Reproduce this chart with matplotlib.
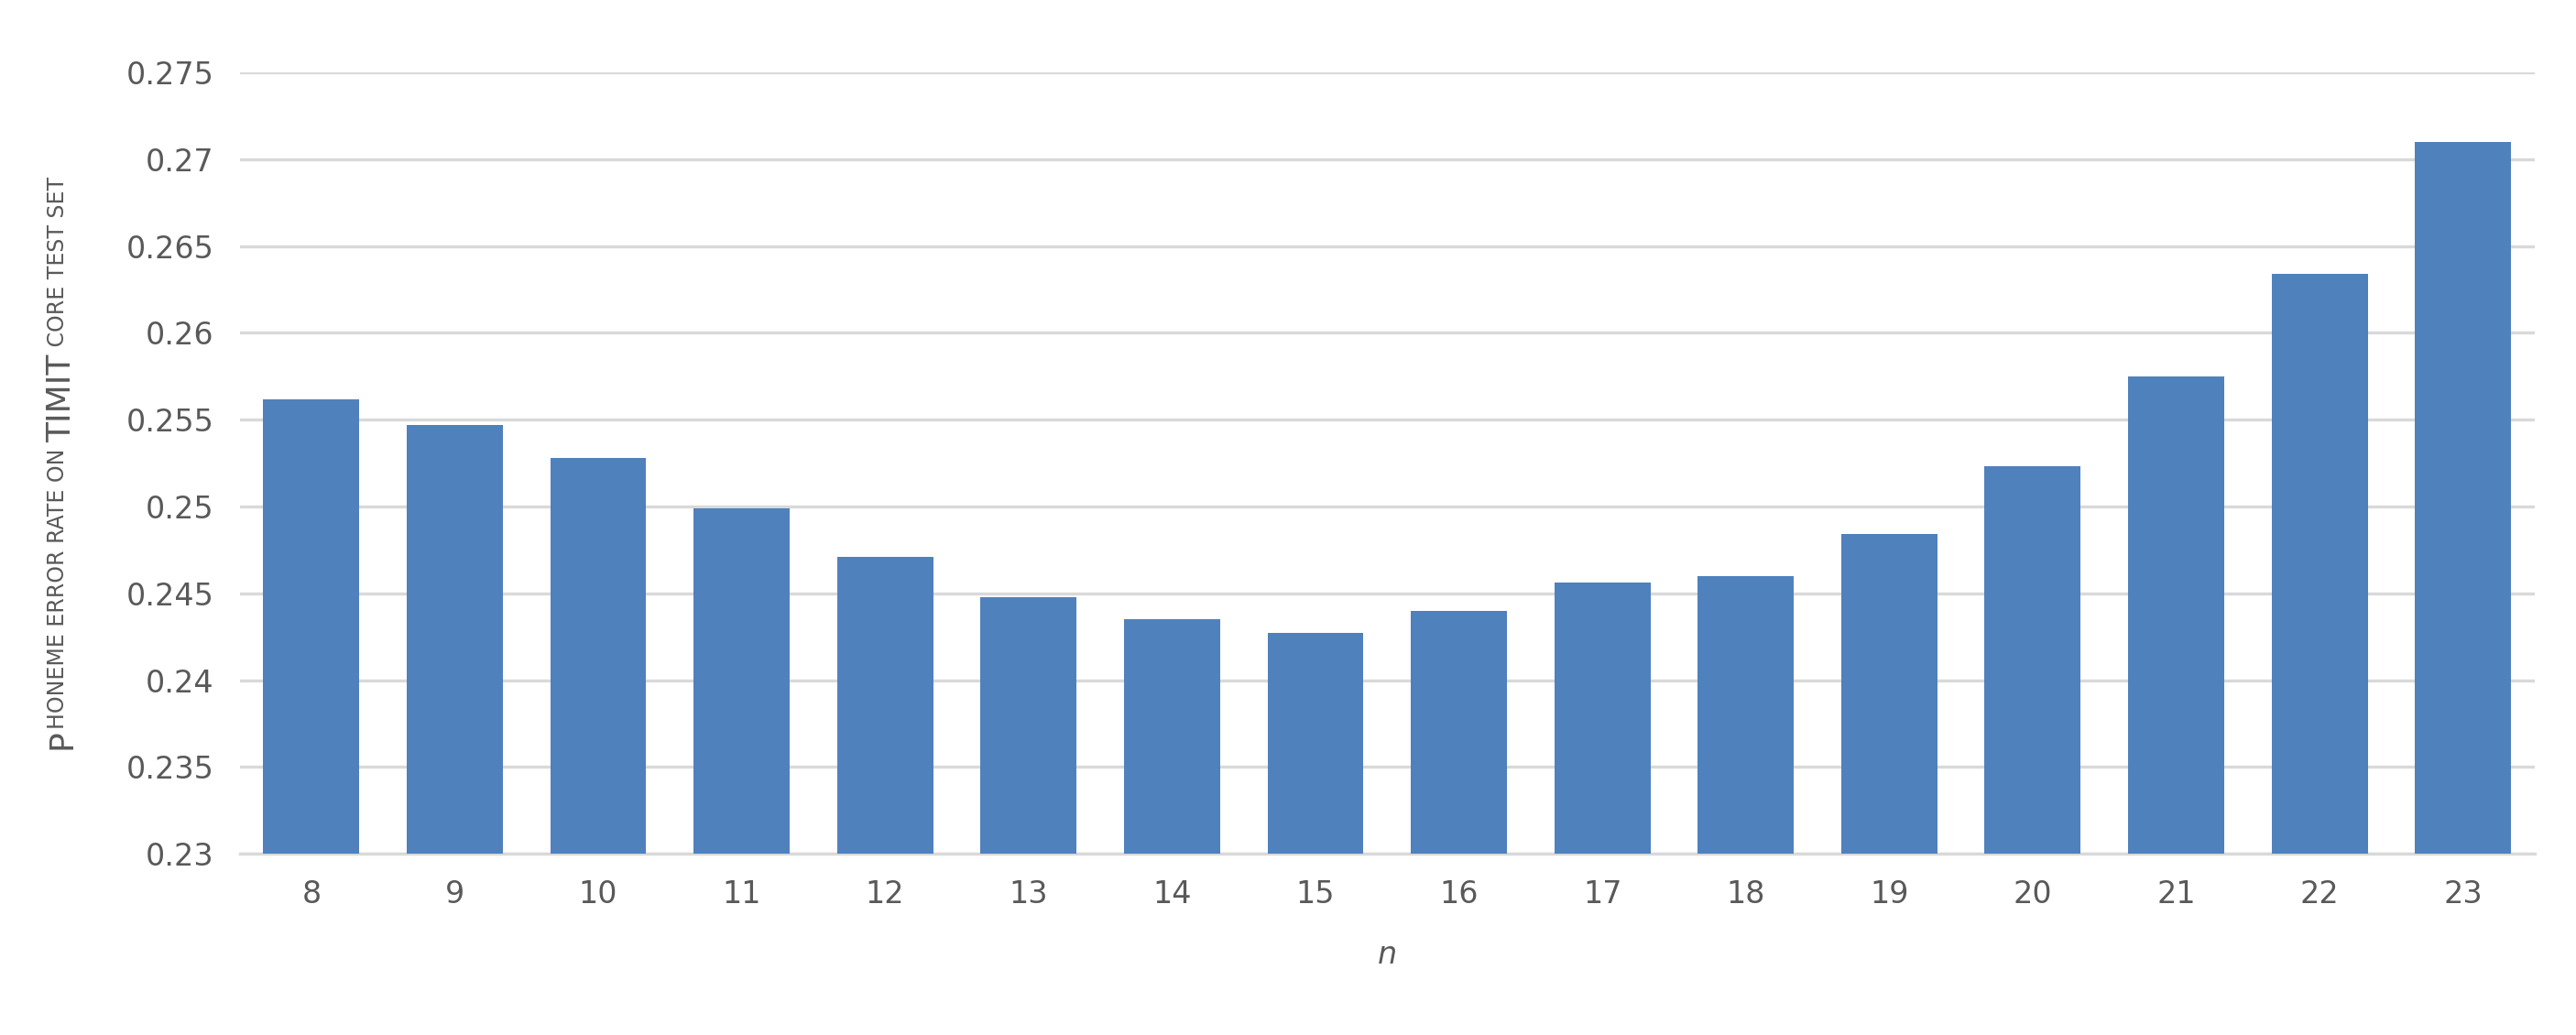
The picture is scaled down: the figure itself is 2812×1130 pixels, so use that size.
import matplotlib
matplotlib.use("Agg")
import matplotlib.pyplot as plt
from matplotlib.transforms import offset_copy

categories = ["8","9","10","11","12","13","14","15","16","17","18","19","20","21","22","23"]
values = [0.2562,0.2547,0.2528,0.2499,0.2471,0.2448,0.2435,0.2427,0.2440,0.2456,0.2460,0.2484,0.2523,0.2575,0.2634,0.2710]
yticks = [0.23,0.235,0.24,0.245,0.25,0.255,0.26,0.265,0.27,0.275]
ytick_labels = ["0.23","0.235","0.24","0.245","0.25","0.255","0.26","0.265","0.27","0.275"]

fig = plt.figure(figsize=(14.06,5.65), dpi=200)
ax = fig.add_axes([0.093,0.175,0.891,0.755])
x = range(len(categories))
ax.bar(x, values, width=0.67, color="#4F81BD", zorder=3)
ax.set_xlim(-0.5, len(categories)-0.5)
ax.set_ylim(0.23, 0.275)
ax.set_yticks(yticks)
ax.set_yticklabels(ytick_labels)
ax.set_xticks(list(x))
ax.set_xticklabels(categories)
ax.grid(axis="y", color="#D9D9D9", linewidth=1.2, zorder=0)
for s in ["top","right","left"]:
    ax.spines[s].set_visible(False)
ax.spines["bottom"].set_color("#D9D9D9")
ax.spines["bottom"].set_linewidth(1.2)
ax.tick_params(length=0, labelsize=12, colors="#595959", pad=10)
ax.set_xlabel("n", fontsize=12, style="italic", color="#595959", labelpad=12)

# small-caps y label
pieces = [("P",13),("HONEME ERROR RATE ON ",8.5),("TIMIT",13),(" CORE TEST SET",8.5)]
fig.canvas.draw()
r = fig.canvas.get_renderer()
texts = []
total = 0
for s,size in pieces:
    t = fig.text(0,0,s,fontsize=size,color="#595959",rotation=90,va="baseline",ha="left")
    h = t.get_window_extent(r).height
    texts.append((t,h)); total += h
axbb = ax.get_window_extent(r)
xpix = 0.018*fig.bbox.width
ypix = (axbb.y0+axbb.y1)/2 - total/2
for t,h in texts:
    t.set_x(xpix/fig.bbox.width); t.set_y(ypix/fig.bbox.height)
    t.set_ha("left"); t.set_va("bottom")
    ypix += h
fig.savefig("out.png", dpi=200)
